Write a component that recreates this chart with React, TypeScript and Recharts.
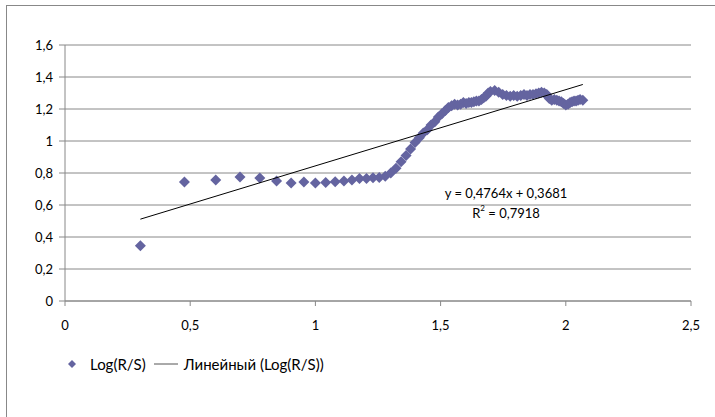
import { ScatterChart, Scatter, XAxis, YAxis, CartesianGrid } from "recharts"

// log(n) values on the x axis
const logN = [
  0.301, 0.477, 0.602, 0.699, 0.778, 0.845, 0.903, 0.954, 1.0, 1.041,
  1.079, 1.114, 1.146, 1.176, 1.204, 1.23, 1.255, 1.279, 1.301, 1.322,
  1.342, 1.362, 1.38, 1.398, 1.415, 1.431, 1.447, 1.462, 1.477, 1.491,
  1.505, 1.519, 1.531, 1.544, 1.556, 1.568, 1.58, 1.591, 1.602, 1.613,
  1.623, 1.633, 1.643, 1.653, 1.663, 1.672, 1.681, 1.69, 1.699,
  1.716, 1.732, 1.748, 1.763, 1.778, 1.792, 1.806, 1.82, 1.833, 1.845,
  1.857, 1.869, 1.881, 1.892, 1.903, 1.914, 1.924, 1.934, 1.944, 1.954,
  1.964, 1.973, 1.982, 1.991, 2.0, 2.009, 2.017, 2.025, 2.033, 2.041,
  2.049, 2.057, 2.068,
]

// Log(R/S)
const logRS = [
  0.345, 0.744, 0.756, 0.775, 0.769, 0.75, 0.738, 0.744, 0.738, 0.74,
  0.745, 0.75, 0.757, 0.765, 0.766, 0.77, 0.772, 0.78, 0.8, 0.83,
  0.87, 0.91, 0.95, 0.99, 1.02, 1.05, 1.07, 1.1, 1.12, 1.15,
  1.17, 1.19, 1.21, 1.22, 1.23, 1.225, 1.23, 1.24, 1.235, 1.24,
  1.24, 1.245, 1.25, 1.25, 1.26, 1.27, 1.28, 1.3, 1.31,
  1.315, 1.305, 1.29, 1.285, 1.28, 1.285, 1.28, 1.285, 1.29, 1.285,
  1.29, 1.29, 1.295, 1.3, 1.305, 1.3, 1.29, 1.265, 1.255, 1.26,
  1.255, 1.25, 1.245, 1.235, 1.225, 1.23, 1.24, 1.245, 1.25, 1.25,
  1.255, 1.26, 1.255,
]

// linear trend y = 0,4764x + 0,3681
const trendX = [0.301, 2.068]
const trendY = [0.5115, 1.3533]

const xTicks = [0, 0.5, 1, 1.5, 2, 2.5]
const yTicks = [0, 0.2, 0.4, 0.6, 0.8, 1, 1.2, 1.4, 1.6]

const FONT = "Lato, 'Open Sans', sans-serif"
const MARK = "#6464a0"
const GRID = "#888888"

const points = logN.map((x, i) => ({ x, y: logRS[i] }))
const trend = trendX.map((x, i) => ({ x, y: trendY[i] }))

const fmt = (v: number) => String(v).replace(".", ",")

const Diamond = ({ cx, cy }: any) => (
  <path
    d={`M${cx},${cy - 5.5}L${cx + 5.5},${cy}L${cx},${cy + 5.5}L${cx - 5.5},${cy}Z`}
    fill={MARK}
  />
)

export default function App() {
  return (
    <div style={{ position: "absolute", left: 0, top: 0, width: 715, height: 417, background: "#fff", fontFamily: FONT, overflow: "hidden" }}>
      <div style={{ position: "absolute", left: 6, top: 5, width: 720, height: 420, boxSizing: "border-box", borderLeft: `1px solid ${GRID}`, borderTop: `1px solid ${GRID}` }} />
      <div style={{ position: "absolute", left: 0, top: 0 }}>
        <ScatterChart width={715} height={417} margin={{ top: 45, right: 24, bottom: 86, left: 0 }}>
          <CartesianGrid vertical={false} stroke={GRID} />
          <XAxis
            type="number"
            dataKey="x"
            domain={[0, 2.5]}
            ticks={xTicks}
            tickFormatter={fmt}
            height={30}
            tickSize={5}
            tickMargin={15}
            stroke={GRID}
            tick={{ fill: "#000", fontSize: 13, fontFamily: FONT }}
          />
          <YAxis
            type="number"
            dataKey="y"
            domain={[0, 1.6]}
            ticks={yTicks}
            tickFormatter={fmt}
            width={65}
            tickSize={6}
            tickMargin={6}
            stroke={GRID}
            tick={{ fill: "#000", fontSize: 13, fontFamily: FONT }}
          />
          <Scatter data={points} shape={Diamond} isAnimationActive={false} />
          <Scatter
            data={trend}
            line={{ stroke: "#000", strokeWidth: 1 }}
            shape={() => <g />}
            isAnimationActive={false}
          />
        </ScatterChart>
      </div>
      <div style={{ position: "absolute", left: 420, top: 183, width: 172, textAlign: "center", fontSize: 13, lineHeight: "20px", color: "#000" }}>
        <div>y = 0,4764x + 0,3681</div>
        <div>
          R<sup style={{ fontSize: 8, verticalAlign: "7px", lineHeight: 0 }}>2</sup> = 0,7918
        </div>
      </div>
      <div style={{ position: "absolute", left: 66, top: 355, display: "flex", alignItems: "center", fontSize: 15, color: "#000", whiteSpace: "nowrap" }}>
        <svg width={12} height={12} style={{ marginRight: 12 }}>
          <path d="M6,2L10,6L6,10L2,6Z" fill={MARK} />
        </svg>
        <span>Log(R/S)</span>
        <svg width={24} height={12} style={{ margin: "0 6px 0 8px" }}>
          <line x1={0} y1={6} x2={24} y2={6} stroke="#555" strokeWidth={1} />
        </svg>
        <span>Линейный (Log(R/S))</span>
      </div>
    </div>
  )
}
